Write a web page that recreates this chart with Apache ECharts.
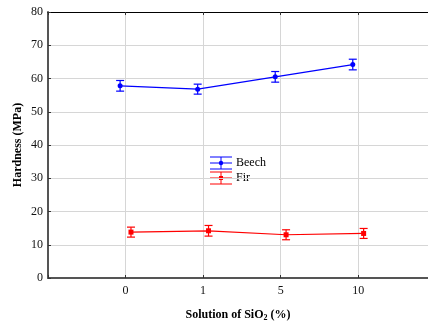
<!DOCTYPE html>
<html>
<head>
<meta charset="utf-8">
<script src="https://cdn.jsdelivr.net/npm/echarts@6/dist/echarts.min.js"></script>
<style>html,body{margin:0;padding:0;background:#fff}#c{width:428px;height:322px}</style>
</head>
<body>
<div id="c"></div>
<script>
const categories = ['0', '1', '5', '10'];
const beechMean = [57.8, 56.8, 60.5, 64.2];
const beechErr = [1.6, 1.5, 1.6, 1.6];
const firMean = [13.8, 14.2, 13.0, 13.4];
const firErr = [1.5, 1.6, 1.5, 1.5];
const seriesNames = ['Beech', 'Fir'];

const FONT = '"Liberation Serif", "Times New Roman", serif';
const BLUE = '#0000ff', RED = '#ff0000';

function errSeries(name, means, errs, color, off) {
  return {
    type: 'custom', name: name + ' err',
    data: means.map((m, i) => [i + off, m - errs[i], m + errs[i]]),
    encode: { x: 0, y: [1, 2] },
    z: 3, silent: true,
    renderItem: (params, api) => {
      const x = api.value(0);
      const lo = api.coord([x, api.value(1)]);
      const hi = api.coord([x, api.value(2)]);
      const w = 4;
      const st = { stroke: color, lineWidth: 1.2 };
      return { type: 'group', children: [
        { type: 'line', shape: { x1: lo[0], y1: lo[1], x2: hi[0], y2: hi[1] }, style: st },
        { type: 'line', shape: { x1: lo[0] - w, y1: lo[1], x2: lo[0] + w, y2: lo[1] }, style: st },
        { type: 'line', shape: { x1: hi[0] - w, y1: hi[1], x2: hi[0] + w, y2: hi[1] }, style: st }
      ]};
    }
  };
}

// legend drawn as graphic: error-bar style key
function legendItem(name, color, isRect, top) {
  const st = { stroke: color, lineWidth: 1 };
  const kids = [
    { type: 'line', shape: { x1: 0, y1: 0, x2: 22, y2: 0 }, style: st },
    { type: 'line', shape: { x1: 0, y1: 6, x2: 22, y2: 6 }, style: st },
    { type: 'line', shape: { x1: 0, y1: 12, x2: 22, y2: 12 }, style: st },
    { type: 'line', shape: { x1: 11, y1: 0, x2: 11, y2: 12 }, style: st },
    isRect
      ? { type: 'rect', shape: { x: 9, y: 4, width: 4, height: 4 }, style: { fill: color } }
      : { type: 'circle', shape: { cx: 11, cy: 6, r: 2.2 }, style: { fill: color } },
    { type: 'text', x: 26, y: 6, style: { text: name, font: '12px ' + FONT, fill: '#000', verticalAlign: 'middle' } }
  ];
  return { type: 'group', x: 210, y: top, children: kids, z: 10 };
}

const chart = echarts.init(document.getElementById('c'), null, { renderer: 'canvas' });
chart.setOption({
  animation: false,
  backgroundColor: '#fff',
  textStyle: { fontFamily: FONT },
  grid: { left: 48, top: 12, right: 0, bottom: 44, containLabel: false, outerBoundsMode: 'none' },
  graphic: [
    legendItem(seriesNames[0], BLUE, false, 157),
    legendItem(seriesNames[1], RED, true, 172)
  ],
  xAxis: [{
    type: 'value', position: 'bottom', min: -1, max: 3.9, interval: 1,
    name: 'Solution of SiO{sub|2} (%)', nameLocation: 'middle', nameGap: 30, nameMoveOverlap: false,
    nameTextStyle: { fontFamily: FONT, fontSize: 12, fontWeight: 'bold', color: '#000',
      rich: { sub: { fontSize: 8, fontWeight: 'bold', fontFamily: FONT, verticalAlign: 'bottom', padding: [6, 0, 0, 0] } } },
    axisLine: { show: true, onZero: false, lineStyle: { color: '#555', width: 2 } },
    axisTick: { show: true, inside: true, length: 3, lineStyle: { color: '#333' } },
    axisLabel: { fontFamily: FONT, fontSize: 12, color: '#111', margin: 7,
      formatter: v => (Number.isInteger(v) && v >= 0 && v < categories.length) ? categories[v] : '' },
    splitLine: { show: true, showMaxLine: false, lineStyle: { color: '#d6d6d6', width: 1 } }
  }, {
    type: 'value', position: 'top', min: -1, max: 3.9, interval: 1,
    axisLine: { show: true, onZero: false, lineStyle: { color: '#000', width: 1 } },
    axisTick: { show: true, inside: true, length: 3, lineStyle: { color: '#333' } },
    axisLabel: { show: false },
    splitLine: { show: false }
  }],
  yAxis: {
    type: 'value', position: 'left', min: 0, max: 80, interval: 10,
    name: 'Hardness (MPa)', nameLocation: 'middle', nameGap: 24, nameMoveOverlap: false,
    nameTextStyle: { fontFamily: FONT, fontSize: 12, fontWeight: 'bold', color: '#000' },
    axisLine: { show: true, onZero: false, lineStyle: { color: '#555', width: 2 } },
    axisTick: { show: true, inside: true, length: 3, lineStyle: { color: '#333' } },
    axisLabel: { fontFamily: FONT, fontSize: 12, color: '#111', margin: 5 },
    splitLine: { show: true, lineStyle: { color: '#d6d6d6', width: 1 } }
  },
  series: [
    { type: 'line', name: seriesNames[0], color: BLUE, data: beechMean.map((m, i) => [i - 0.07, m]),
      symbol: 'circle', symbolSize: 5, lineStyle: { width: 1.2, color: BLUE }, itemStyle: { color: BLUE }, z: 4 },
    { type: 'line', name: seriesNames[1], color: RED, data: firMean.map((m, i) => [i + 0.07, m]),
      symbol: 'rect', symbolSize: 5, lineStyle: { width: 1.2, color: RED }, itemStyle: { color: RED }, z: 4 },
    errSeries(seriesNames[0], beechMean, beechErr, BLUE, -0.07),
    errSeries(seriesNames[1], firMean, firErr, RED, 0.07)
  ]
});
</script>
</body>
</html>
